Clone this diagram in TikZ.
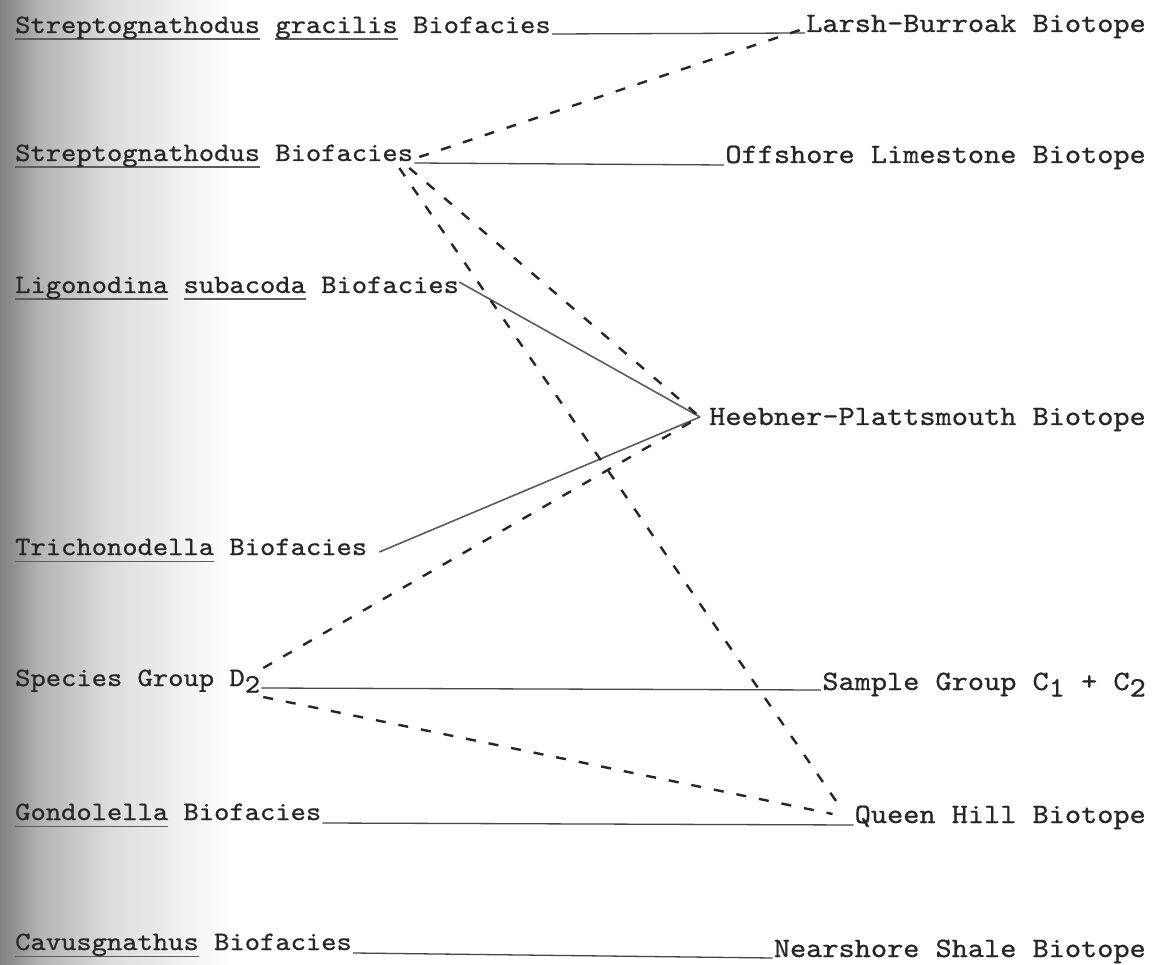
\documentclass[tikz,border=0pt]{standalone}
\usepackage{fontspec}
\newfontfamily\tw{lmmono10-regular.otf}[FakeStretch=1.1,FakeBold=0.7]
\usetikzlibrary{calc}
\definecolor{ink}{HTML}{262626}
\definecolor{ulgray}{HTML}{5C5C5C}
\definecolor{scanA}{HTML}{808080}
\definecolor{scanB}{HTML}{B4B4B4}
\definecolor{scanC}{HTML}{DCDCDC}
\newcommand\ulw[1]{\setbox0\hbox{#1}\rlap{\color{ulgray}\rule[-7pt]{\wd0}{1.5pt}}\box0\relax}
\newcommand\subd[1]{\raisebox{-6.5pt}{#1}}
\begin{document}
\begin{tikzpicture}[x=1pt,y=-1pt,
  lbl/.style={text=ink, inner sep=0pt},
  lft/.style={lbl, anchor=base west, font=\tw\fontsize{26.5}{30}\selectfont},
  rgt/.style={lbl, anchor=base east, font=\tw\fontsize{28}{31}\selectfont},
  tie/.style={draw=ink!85, line width=1.3pt},
  link/.style={draw=ink!75, line width=1.6pt},
  alt/.style={draw=ink, line width=2.4pt, dash pattern=on 10pt off 13pt}]
\useasboundingbox (0,0) rectangle (1163,965);
\fill[white] (0,0) rectangle (1163,965);
\shade[left color=scanA, right color=scanB] (0,0) rectangle (40,965);
\shade[left color=scanB, right color=scanC] (40,0) rectangle (110,965);
\shade[left color=scanC, right color=white] (110,0) rectangle (230,965);

% left column
\node[lft] (l1) at (15,33) {\ulw{Streptognathodus} \ulw{gracilis} Biofacies};
\node[lft] (l2) at (15,161) {\ulw{Streptognathodus} Biofacies};
\node[lft] (l3) at (15,293) {\ulw{Ligonodina} \ulw{subacoda} Biofacies};
\node[lft] (l5) at (15,555) {\ulw{Trichonodella} Biofacies};
\node[lft] (l6) at (15,686) {Species Group D\subd{2}};
\node[lft] (l7) at (15,820) {\ulw{Gondolella} Biofacies};
\node[lft] (l8) at (15,950) {\ulw{Cavusgnathus} Biofacies};

% right column
\node[rgt] (r1) at (1146,32) {Larsh-Burroak Biotope};
\node[rgt] (r2) at (1146,163) {Offshore Limestone Biotope};
\node[rgt] (r4) at (1146,425) {Heebner-Plattsmouth Biotope};
\node[rgt] (r6) at (1146,690) {Sample Group C\subd{1} + C\subd{2}};
\node[rgt] (r7) at (1146,823) {Queen Hill Biotope};
\node[rgt] (r8) at (1146,957) {Nearshore Shale Biotope};

% meeting points of the connectors
\coordinate (h) at ($(r4.base west)+(-9,-8)$);
\coordinate (q) at ($(r7.base west)+(-13,-14)$);
\coordinate (qb) at ($(r7.base west)+(-22,-9)$);
\coordinate (lb) at ($(r1.base west)+(-3,-3)$);
\coordinate (s2u) at ($(l2.base east)+(6,-4)$);
\coordinate (s2d) at ($(l2.base east)+(-4,7)$);
\coordinate (d2u) at ($(l6.base east)+(3,-18)$);
\coordinate (d2d) at ($(l6.base east)+(3,11)$);

% typed underscores (solid ties)
\draw[tie] ([xshift=1pt,yshift=-1pt]l1.base east) -- ([xshift=-1pt,yshift=-1pt]r1.base west);
\draw[tie] ([xshift=1pt,yshift=-2pt]l2.base east) -- ([xshift=-1pt,yshift=-2pt]r2.base west);
\draw[tie] ([xshift=1pt,yshift=-2pt]l6.base east) -- ([xshift=-1pt,yshift=0pt]r6.base west);
\draw[tie] ([xshift=1pt,yshift=-3pt]l7.base east) -- ([xshift=-1pt,yshift=-2pt]r7.base west);
\draw[tie] ([xshift=1pt,yshift=-3pt]l8.base east) -- ([xshift=-1pt,yshift=-1pt]r8.base west);

% solid diagonal links
\draw[link] ($(l3.base east)+(0,-11)$) -- (h);
\draw[link] ($(l5.base east)+(12,-3)$) -- (h);

% dashed links
\draw[alt] (s2u) -- (lb);
\draw[alt] (s2d) -- (h);
\draw[alt] ($(s2d)+(-10,0)$) -- (q);
\draw[alt] (d2u) -- (h);
\draw[alt] (d2d) -- (qb);
\end{tikzpicture}
\end{document}
